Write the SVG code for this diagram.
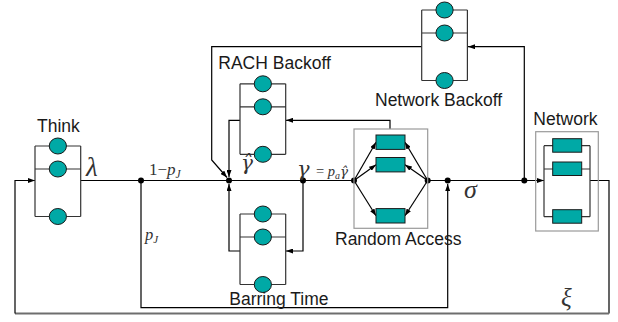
<svg xmlns="http://www.w3.org/2000/svg" xmlns:xlink="http://www.w3.org/1999/xlink" width="618" height="322" viewBox="0 0 618 322">
<style>
.ql{fill:none;stroke:#333;stroke-width:1.2}
.srv{fill:#00a9a6;stroke:#1a1a1a;stroke-width:1}
.box{fill:none;stroke:#9a9a9a;stroke-width:1.2}
.lbl{font-family:"Liberation Sans",Arial,sans-serif;font-size:17.5px;fill:#1a1a1a}
.m{font-family:"Liberation Serif","Times New Roman",serif;font-style:italic;fill:#333}
.mr{font-family:"Liberation Serif","Times New Roman",serif;fill:#333}
.d{font-family:"DejaVu Serif",serif;font-style:italic;fill:#333}
.c{fill:none;stroke:#000;stroke-width:1.2}
.dot{fill:#000}
</style>
<defs>
<marker id="ah" viewBox="0 0 7 5" refX="7" refY="2.5" markerWidth="7" markerHeight="5" markerUnits="userSpaceOnUse" orient="auto">
<path d="M0,0 L7,2.5 L0,5 z" fill="#000"/>
</marker>
<g id="q">
<path class="ql" d="M0,0 V70.5 M45.7,0 V70.5 M0,0 H45.7 M0,23 H45.7 M0,70.5 H45.7"/>
<ellipse class="srv" cx="22.85" cy="0" rx="8.6" ry="8"/>
<ellipse class="srv" cx="22.85" cy="23" rx="8.6" ry="8"/>
<ellipse class="srv" cx="22.85" cy="70.5" rx="8.6" ry="8"/>
</g>
</defs>
<rect width="618" height="322" fill="#fff"/>

<g id="connectors">
<path class="c" d="M80.7,180.5 H354"/>
<path class="c" d="M427.7,180.5 H544" marker-end="url(#ah)"/>
<path class="c" d="M141,180.5 V307.7 H447.7 V184" marker-end="url(#ah)"/>
<path class="c" d="M421.7,46.7 H211.7 V160 L227,177.5" marker-end="url(#ah)"/>
<path class="c" d="M240,120.3 H229 V177" marker-end="url(#ah)"/>
<path class="c" d="M390,129 V120.3 H286" marker-end="url(#ah)"/>
<path class="c" d="M303,180.5 V251 H286" marker-end="url(#ah)"/>
<path class="c" d="M240,251 H229 V184" marker-end="url(#ah)"/>
<path class="c" d="M524.3,180.5 V46.7 H468" marker-end="url(#ah)"/>
<path class="c" d="M590,180.5 H609 V313.5"/>
<path d="M609,313.5 H15" fill="none" stroke="#6e6e6e" stroke-width="2"/>
<path class="c" d="M15,313.5 V180.5 H35" marker-end="url(#ah)"/>
<path class="c" d="M354,180.5 L376,142.2" marker-end="url(#ah)"/>
<path class="c" d="M354,180.5 L376,164.7" marker-end="url(#ah)"/>
<path class="c" d="M354,180.5 L376,215.8" marker-end="url(#ah)"/>
<path class="c" d="M427.7,180.5 L405,142.2" marker-end="url(#ah)"/>
<path class="c" d="M427.7,180.5 L405,164.7" marker-end="url(#ah)"/>
<path class="c" d="M427.7,180.5 L405,215.8" marker-end="url(#ah)"/>
<circle class="dot" cx="141" cy="180.5" r="3"/>
<circle class="dot" cx="229" cy="180.5" r="3"/>
<circle class="dot" cx="303" cy="180.5" r="3"/>
<circle class="dot" cx="354" cy="180.5" r="3"/>
<circle class="dot" cx="427.7" cy="180.5" r="3"/>
<circle class="dot" cx="447.7" cy="180.5" r="3"/>
<circle class="dot" cx="524.3" cy="180.5" r="3"/>
<text class="m" x="86" y="176" font-size="27">λ</text>
<text class="mr" x="149" y="174.5" font-size="17">1−<tspan class="m">p</tspan><tspan class="m" font-size="11.5" dy="3">J</tspan></text>
<text class="m" x="145" y="240" font-size="16.5">p<tspan font-size="11" dy="3">J</tspan></text>
<text class="d" x="241" y="170" font-size="20">γ̂</text>
<text class="d" x="297" y="176" font-size="21">γ</text>
<text class="mr" x="316" y="176" font-size="14.5">= <tspan class="m">p</tspan><tspan class="m" font-size="10" dy="2.5">a</tspan><tspan class="d" dy="-2.5" font-size="13.5">γ̂</tspan></text>
<text class="m" x="464" y="198" font-size="26">σ</text>
<text class="m" x="561" y="306" font-size="25">ξ</text>
</g>

<g id="think">
<use xlink:href="#q" href="#q" x="35" y="146"/>
<text class="lbl" x="37" y="131.7">Think</text>
</g>

<g id="rach-backoff">
<use xlink:href="#q" href="#q" x="240" y="83.8"/>
<text class="lbl" x="218.3" y="69.3">RACH Backoff</text>
</g>

<g id="barring-time">
<use xlink:href="#q" href="#q" x="240" y="214"/>
<text class="lbl" x="229.3" y="305">Barring Time</text>
</g>

<g id="network-backoff">
<use xlink:href="#q" href="#q" x="421.7" y="10"/>
<text class="lbl" x="375" y="106">Network Backoff</text>
</g>

<g id="random-access">
<rect class="box" x="354" y="129" width="73.7" height="99.3"/>
<rect class="srv" x="376" y="135" width="29" height="14.4"/>
<rect class="srv" x="376" y="157.5" width="29" height="14.4"/>
<rect class="srv" x="376" y="208.6" width="29" height="14.4"/>
<text class="lbl" x="335" y="245">Random Access</text>
</g>

<g id="network">
<rect class="box" x="535.7" y="131.7" width="62.6" height="99.3"/>
<path class="ql" d="M544,145.7 V216.7 M590,145.7 V216.7 M544,145.7 H590 M544,169 H590 M544,216.7 H590"/>
<rect class="srv" x="552.7" y="138.7" width="29" height="13.5"/>
<rect class="srv" x="552.7" y="162" width="29" height="13.5"/>
<rect class="srv" x="552.7" y="209.7" width="29" height="13.5"/>
<text class="lbl" x="533.3" y="125">Network</text>
</g>
</svg>
